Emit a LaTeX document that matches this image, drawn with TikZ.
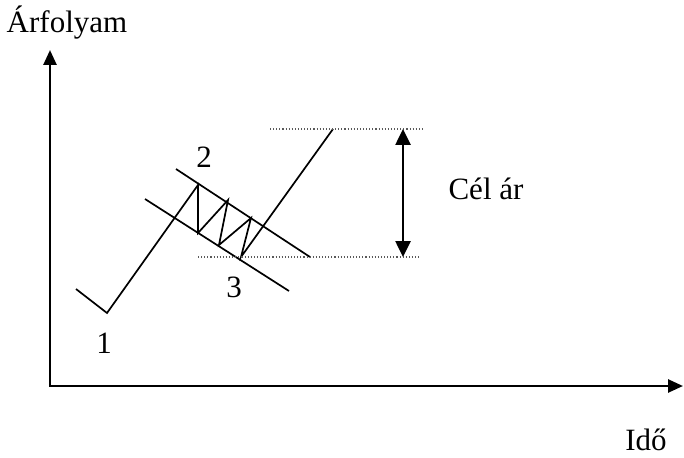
\documentclass[tikz,border=0pt]{standalone}
\usepackage{fontspec}
\setmainfont{Liberation Serif}
\usetikzlibrary{arrows.meta}

\begin{document}
\begin{tikzpicture}[x=1pt,y=-1pt,
  axis/.style={line width=2.6pt,line join=miter,
    {Triangle[length=15pt,width=13pt]}-{Triangle[length=15pt,width=13pt]}},
  price/.style={line width=1.7pt,line join=miter},
  chan/.style={line width=1.7pt},
  guide/.style={dotted,line width=1.1pt,black!65},
  target/.style={line width=2.6pt,
    {Triangle[length=16pt,width=15pt]}-{Triangle[length=16pt,width=15pt]}},
  lbl/.style={font=\fontsize{31}{37}\selectfont,inner sep=0pt,anchor=base}
]
\useasboundingbox (0,0) rectangle (684,457);
% axes
\coordinate (ytop) at (50,50);
\coordinate (o) at (50,386);
\coordinate (xend) at (683,386);
\draw[axis] (ytop) -- (o) -- (xend);
\node[lbl] (yl) at (67,33) {Árfolyam};
\node[lbl] (xl) at (646,450) {Idő};
% price path
\coordinate (p0) at (76,289);
\coordinate (p1) at (107,313);
\coordinate (p2) at (198,185);
\coordinate (z1) at (198,233);
\coordinate (z2) at (228,200);
\coordinate (z3) at (219,245);
\coordinate (z4) at (251,218);
\coordinate (p3) at (241,257);
\coordinate (p4) at (333,129);
\draw[price] (p0) -- (p1) -- (p2) -- (z1) -- (z2) -- (z3) -- (z4) -- (p3) -- (p4);
% flag channel
\coordinate (ua) at (176,169);
\coordinate (ub) at (310,257);
\coordinate (la) at (145,199);
\coordinate (lb) at (289,291);
\draw[chan] (ua) -- (ub);
\draw[chan] (la) -- (lb);
% target
\coordinate (ta) at (270,129);
\coordinate (tb) at (422,129);
\coordinate (ba) at (198,257);
\coordinate (bb) at (420,257);
\draw[guide] (ta) -- (tb);
\draw[guide] (ba) -- (bb);
\coordinate (arrtop) at (403,129);
\coordinate (arrbot) at (403,257);
\draw[target] (arrtop) -- (arrbot);
\node[lbl] (cel) at (486,199) {Cél ár};
% point labels
\node[lbl] (n1) at (104,353) {1};
\node[lbl] (n2) at (204,167) {2};
\node[lbl] (n3) at (234,297) {3};
\end{tikzpicture}
\end{document}
